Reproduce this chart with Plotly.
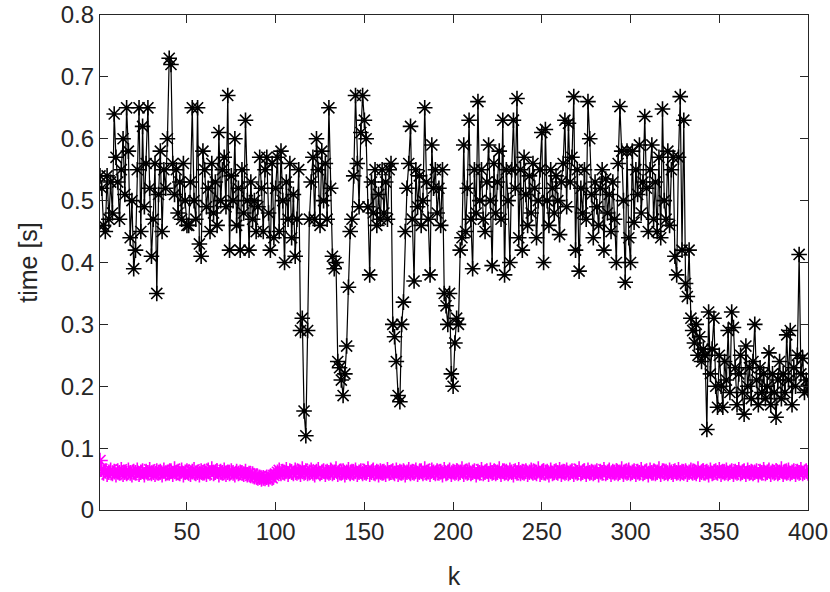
import plotly.graph_objects as go

# black series (time [s]) for k = 1..400
t_black = [
    0.54, 0.52, 0.46, 0.45, 0.54, 0.47, 0.53, 0.48, 0.64, 0.57,
    0.53, 0.47, 0.55, 0.60, 0.51, 0.65, 0.58, 0.44, 0.50, 0.39,
    0.42, 0.55, 0.65, 0.45, 0.62, 0.49, 0.56, 0.65, 0.52, 0.41,
    0.47, 0.56, 0.35, 0.51, 0.58, 0.45, 0.55, 0.52, 0.60, 0.73,
    0.72, 0.56, 0.51, 0.55, 0.48, 0.53, 0.47, 0.56, 0.50, 0.46,
    0.46, 0.53, 0.65, 0.50, 0.47, 0.65, 0.43, 0.41, 0.58, 0.55,
    0.49, 0.52, 0.45, 0.56, 0.48, 0.53, 0.46, 0.61, 0.50, 0.55,
    0.57, 0.49, 0.67, 0.42, 0.54, 0.50, 0.60, 0.46, 0.52, 0.42,
    0.55, 0.48, 0.63, 0.50, 0.42, 0.53, 0.47, 0.50, 0.45, 0.49,
    0.57, 0.52, 0.45, 0.55, 0.57, 0.48, 0.42, 0.56, 0.44, 0.52,
    0.57, 0.45, 0.58, 0.50, 0.40, 0.53, 0.47, 0.56, 0.44, 0.51,
    0.41, 0.47, 0.55, 0.29, 0.31, 0.16, 0.12, 0.29, 0.47, 0.53,
    0.57, 0.47, 0.60, 0.55, 0.46, 0.58, 0.50, 0.56, 0.47, 0.65,
    0.52, 0.41, 0.39, 0.40, 0.24, 0.23, 0.21, 0.185, 0.22, 0.265,
    0.36, 0.45, 0.47, 0.54, 0.67, 0.56, 0.49, 0.61, 0.67, 0.63,
    0.60, 0.49, 0.38, 0.53, 0.48, 0.55, 0.46, 0.51, 0.47, 0.55,
    0.48, 0.53, 0.47, 0.55, 0.56, 0.30, 0.28, 0.24, 0.185, 0.175,
    0.30, 0.336, 0.45, 0.52, 0.56, 0.62, 0.47, 0.37, 0.55, 0.49,
    0.54, 0.46, 0.50, 0.65, 0.53, 0.47, 0.38, 0.59, 0.52, 0.55,
    0.48, 0.52, 0.46, 0.55, 0.35, 0.33, 0.30, 0.35, 0.22, 0.20,
    0.27, 0.31, 0.30, 0.42, 0.44, 0.59, 0.45, 0.52, 0.63, 0.47,
    0.39, 0.55, 0.48, 0.66, 0.50, 0.55, 0.47, 0.45, 0.53, 0.59,
    0.50, 0.395, 0.56, 0.48, 0.53, 0.58, 0.47, 0.63, 0.38, 0.55,
    0.50, 0.40, 0.55, 0.63, 0.52, 0.665, 0.44, 0.55, 0.42, 0.57,
    0.51, 0.46, 0.54, 0.48, 0.56, 0.52, 0.44, 0.50, 0.55, 0.61,
    0.40, 0.615, 0.50, 0.46, 0.55, 0.52, 0.48, 0.54, 0.50, 0.445,
    0.53, 0.56, 0.63, 0.49, 0.625, 0.53, 0.57, 0.668, 0.42, 0.55,
    0.386, 0.52, 0.48, 0.55, 0.47, 0.66, 0.60, 0.51, 0.44, 0.53,
    0.49, 0.46, 0.52, 0.55, 0.42, 0.535, 0.48, 0.51, 0.45, 0.53,
    0.47, 0.40, 0.56, 0.652, 0.58, 0.50, 0.368, 0.58, 0.44, 0.40,
    0.58, 0.465, 0.55, 0.51, 0.59, 0.48, 0.53, 0.636, 0.52, 0.45,
    0.55, 0.59, 0.47, 0.53, 0.45, 0.57, 0.44, 0.648, 0.50, 0.47,
    0.58, 0.46, 0.55, 0.57, 0.41, 0.38, 0.57, 0.668, 0.42, 0.63,
    0.366, 0.345, 0.42, 0.31, 0.29, 0.27, 0.30, 0.25, 0.28, 0.24,
    0.26, 0.25, 0.13, 0.32, 0.22, 0.26, 0.31, 0.20, 0.166, 0.25,
    0.20, 0.166, 0.24, 0.21, 0.29, 0.19, 0.32, 0.295, 0.23, 0.17,
    0.22, 0.25, 0.19, 0.155, 0.265, 0.20, 0.23, 0.18, 0.24, 0.30,
    0.21, 0.17, 0.23, 0.19, 0.22, 0.18, 0.20, 0.254, 0.17, 0.22,
    0.19, 0.15, 0.21, 0.24, 0.18, 0.22, 0.19, 0.283, 0.21, 0.29,
    0.17, 0.23, 0.20, 0.25, 0.413, 0.22, 0.245, 0.19, 0.21, 0.194,
]

# magenta series (time [s]) for k = 1..400
t_magenta = [
    0.080, 0.066, 0.060, 0.063, 0.058, 0.061, 0.064, 0.059, 0.062, 0.057,
    0.063, 0.060, 0.065, 0.058, 0.061, 0.059, 0.064, 0.060, 0.057, 0.062,
    0.060, 0.064, 0.058, 0.061, 0.063, 0.057, 0.062, 0.060, 0.065, 0.059,
    0.061, 0.058, 0.063, 0.060, 0.062, 0.057, 0.064, 0.059, 0.061, 0.060,
    0.063, 0.058, 0.066, 0.060, 0.062, 0.059, 0.064, 0.057, 0.061, 0.063,
    0.060, 0.058, 0.062, 0.065, 0.059, 0.061, 0.057, 0.063, 0.060, 0.062,
    0.058, 0.064, 0.060, 0.066, 0.059, 0.061, 0.063, 0.057, 0.062, 0.060,
    0.064, 0.058, 0.061, 0.059, 0.063, 0.060, 0.057, 0.062, 0.059, 0.061,
    0.060, 0.058, 0.062, 0.057, 0.059, 0.056, 0.058, 0.054, 0.055, 0.052,
    0.053, 0.050, 0.052, 0.051, 0.053, 0.050, 0.054, 0.052, 0.056, 0.058,
    0.061, 0.064, 0.059, 0.062, 0.060, 0.065, 0.058, 0.063, 0.061, 0.059,
    0.064, 0.060, 0.062, 0.058, 0.066, 0.060, 0.063, 0.059, 0.061, 0.064,
    0.060, 0.057, 0.062, 0.065, 0.059, 0.061, 0.063, 0.058, 0.062, 0.060,
    0.064, 0.059, 0.061, 0.066, 0.058, 0.062, 0.060, 0.063, 0.057, 0.061,
    0.065, 0.059, 0.062, 0.060, 0.064, 0.058, 0.061, 0.063, 0.059, 0.062,
    0.060, 0.066, 0.058, 0.061, 0.064, 0.059, 0.062, 0.057, 0.063, 0.060,
    0.062, 0.058, 0.065, 0.060, 0.061, 0.063, 0.059, 0.064, 0.058, 0.062,
    0.060, 0.063, 0.057, 0.061, 0.065, 0.059, 0.062, 0.060, 0.064, 0.058,
    0.061, 0.063, 0.059, 0.066, 0.060, 0.062, 0.058, 0.064, 0.061, 0.059,
    0.063, 0.060, 0.062, 0.057, 0.065, 0.059, 0.061, 0.064, 0.058, 0.062,
    0.060, 0.063, 0.059, 0.061, 0.066, 0.058, 0.062, 0.060, 0.064, 0.059,
    0.061, 0.063, 0.057, 0.062, 0.060, 0.065, 0.059, 0.061, 0.063, 0.058,
    0.064, 0.060, 0.062, 0.059, 0.061, 0.066, 0.058, 0.063, 0.060, 0.062,
    0.059, 0.064, 0.061, 0.057, 0.063, 0.060, 0.065, 0.059, 0.062, 0.060,
    0.063, 0.058, 0.061, 0.064, 0.060, 0.062, 0.059, 0.066, 0.058, 0.061,
    0.063, 0.060, 0.062, 0.057, 0.064, 0.059, 0.061, 0.063, 0.060, 0.065,
    0.058, 0.062, 0.060, 0.064, 0.059, 0.061, 0.063, 0.058, 0.062, 0.060,
    0.066, 0.059, 0.061, 0.063, 0.058, 0.064, 0.060, 0.062, 0.059, 0.061,
    0.063, 0.057, 0.062, 0.060, 0.065, 0.059, 0.061, 0.064, 0.058, 0.062,
    0.060, 0.063, 0.059, 0.061, 0.066, 0.058, 0.062, 0.060, 0.064, 0.059,
    0.061, 0.063, 0.058, 0.062, 0.060, 0.065, 0.059, 0.061, 0.063, 0.057,
    0.064, 0.060, 0.062, 0.059, 0.061, 0.066, 0.058, 0.063, 0.060, 0.062,
    0.059, 0.064, 0.061, 0.058, 0.063, 0.060, 0.065, 0.059, 0.062, 0.060,
    0.063, 0.058, 0.061, 0.064, 0.060, 0.062, 0.059, 0.066, 0.058, 0.061,
    0.063, 0.060, 0.062, 0.057, 0.064, 0.059, 0.061, 0.063, 0.060, 0.065,
    0.058, 0.062, 0.060, 0.064, 0.059, 0.061, 0.063, 0.058, 0.062, 0.060,
    0.065, 0.059, 0.061, 0.063, 0.058, 0.064, 0.060, 0.062, 0.059, 0.061,
    0.063, 0.057, 0.062, 0.060, 0.065, 0.059, 0.061, 0.064, 0.058, 0.062,
    0.060, 0.063, 0.059, 0.061, 0.066, 0.058, 0.062, 0.060, 0.064, 0.059,
    0.061, 0.063, 0.058, 0.062, 0.060, 0.065, 0.059, 0.061, 0.063, 0.060,
]

k = list(range(1, len(t_black) + 1))

x_ticks = [50, 100, 150, 200, 250, 300, 350, 400]
y_ticks = [0, 0.1, 0.2, 0.3, 0.4, 0.5, 0.6, 0.7, 0.8]
y_tick_labels = ["0", "0.1", "0.2", "0.3", "0.4", "0.5", "0.6", "0.7", "0.8"]

FONT = "Liberation Sans, Arial, Helvetica, sans-serif"
AXC = "#262626"

fig = go.Figure()
fig.add_trace(go.Scatter(
    x=k, y=t_black, mode="lines+markers",
    line=dict(color="black", width=1.2),
    marker=dict(symbol="asterisk-open", size=13, color="black",
                line=dict(color="black", width=1.6)),
    showlegend=False,
))
fig.add_trace(go.Scatter(
    x=k, y=t_magenta, mode="lines+markers",
    line=dict(color="#FF00FF", width=1.2),
    marker=dict(symbol="asterisk-open", size=13, color="#FF00FF",
                line=dict(color="#FF00FF", width=1.6)),
    showlegend=False,
))

axis_common = dict(
    showline=True, linecolor=AXC, linewidth=1.3, mirror="ticks",
    ticks="inside", ticklen=8, tickcolor=AXC, tickwidth=1.3,
    showgrid=False, zeroline=False, automargin=False,
    ticklabeloverflow="allow",
    tickfont=dict(family=FONT, size=24, color=AXC),
)

fig.update_xaxes(range=[1, 400], tickvals=x_ticks,
                 title=dict(text="k", font=dict(family=FONT, size=25, color=AXC), standoff=23),
                 **axis_common)
fig.update_yaxes(range=[0, 0.8], tickvals=y_ticks, ticktext=y_tick_labels,
                 title=dict(text="time [s]", font=dict(family=FONT, size=25, color=AXC), standoff=15),
                 **axis_common)

fig.update_layout(
    width=830, height=592,
    margin=dict(l=100, r=22, t=15, b=82),
    plot_bgcolor="white", paper_bgcolor="white",
)

fig.write_html("out.html", config={"displayModeBar": False},
               post_script="document.body.style.margin='0';")
